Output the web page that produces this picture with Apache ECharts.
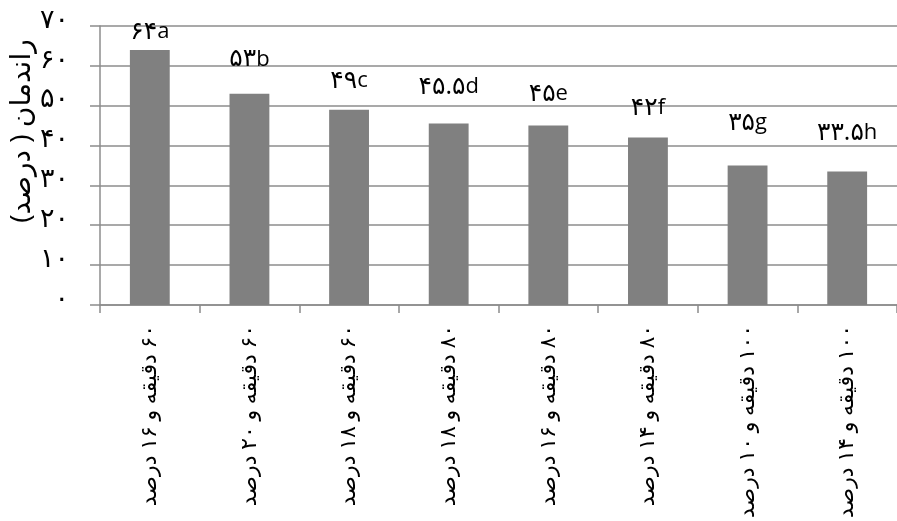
<!DOCTYPE html>
<html dir="rtl">
<head>
<meta charset="utf-8">
<script src="https://cdn.jsdelivr.net/npm/echarts@6/dist/echarts.min.js"></script>
<style>
  html, body { margin: 0; padding: 0; background: #fff; }
  #chart { width: 897px; height: 521px; }
</style>
</head>
<body>
<div id="chart"></div>
<script>
// Treatments: drying time (minutes) and moisture (percent)
const categories = [
  '۶۰ دقیقه و ۱۶ درصد',
  '۶۰ دقیقه و ۲۰ درصد',
  '۶۰ دقیقه و ۱۸ درصد',
  '۸۰ دقیقه و ۱۸ درصد',
  '۸۰ دقیقه و ۱۶ درصد',
  '۸۰ دقیقه و ۱۴ درصد',
  '۱۰۰ دقیقه و ۱۰ درصد',
  '۱۰۰ دقیقه و ۱۴ درصد'
];
// Yield (percent)
const yieldValues = [64, 53, 49, 45.5, 45, 42, 35, 33.5];
// Significance groups
const groupLetters = ['a', 'b', 'c', 'd', 'e', 'f', 'g', 'h'];
// Y axis tick labels (Persian digits)
const yTickLabels = ['۰', '۱۰', '۲۰', '۳۰', '۴۰', '۵۰', '۶۰', '۷۰'];
const yAxisTitle = 'راندمان ( درصد)';

// Gap between each bar top and its value label (px)
const labelGaps = [6, 22, 16, 24, 19, 17, 30, 26];

const toPersianDigits = s => String(s).replace(/[0-9]/g, d => '۰۱۲۳۴۵۶۷۸۹'[+d]);

const FONT = "'Open Sans', 'DejaVu Sans', sans-serif";
const AXIS_GREY = '#8c8c8c';

const chart = echarts.init(document.getElementById('chart'), null, { renderer: 'canvas' });

chart.setOption({
  animation: false,
  backgroundColor: '#ffffff',
  grid: { left: 100, right: -9, top: 26, bottom: 214, containLabel: false },
  xAxis: {
    type: 'category',
    data: categories,
    boundaryGap: true,
    axisLine: { show: true, lineStyle: { color: AXIS_GREY, width: 1.5 } },
    axisTick: { show: true, alignWithLabel: false, length: 8, lineStyle: { color: AXIS_GREY, width: 1.5 } },
    axisLabel: {
      rotate: 90,
      interval: 0,
      margin: 20,
      fontFamily: FONT,
      fontSize: 22,
      color: '#000'
    },
    splitLine: { show: false }
  },
  yAxis: {
    type: 'value',
    min: 0,
    max: 70,
    interval: 10,
    axisLine: { show: true, lineStyle: { color: AXIS_GREY, width: 1.5 } },
    axisTick: { show: true, inside: false, length: 10, lineStyle: { color: AXIS_GREY, width: 1.5 } },
    axisLabel: {
      margin: 31,
      fontFamily: FONT,
      fontSize: 27,
      color: '#000',
      verticalAlign: 'bottom',
      lineHeight: 12,
      formatter: v => yTickLabels[Math.round(v / 10)]
    },
    splitLine: { show: true, lineStyle: { color: AXIS_GREY, width: 1.5 } }
  },
  graphic: [{
    type: 'text',
    x: 22,
    y: 131,
    rotation: Math.PI / 2,
    style: {
      text: yAxisTitle,
      fontFamily: FONT,
      fontSize: 28,
      fill: '#000',
      align: 'center',
      verticalAlign: 'middle'
    }
  }],
  series: [{
    type: 'bar',
    barWidth: '40%',
    itemStyle: { color: '#808080' },
    data: yieldValues.map((v, i) => ({
      value: v,
      label: {
        show: true,
        position: 'top',
        distance: labelGaps[i],
        formatter: '{d|' + toPersianDigits(v) + '}{l|' + groupLetters[i] + '}',
        color: '#000',
        rich: {
          d: { fontFamily: FONT, fontSize: 25, color: '#000' },
          l: { fontFamily: FONT, fontSize: 22, color: '#000' }
        }
      }
    }))
  }]
});
</script>
</body>
</html>
